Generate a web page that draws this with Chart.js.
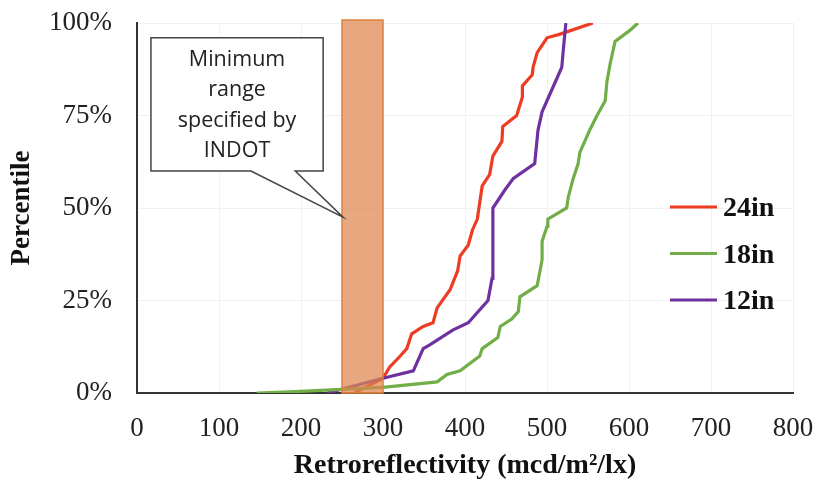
<!DOCTYPE html>
<html>
<head>
<meta charset="utf-8">
<script src="https://cdn.jsdelivr.net/npm/chart.js@4.4.0/dist/chart.umd.min.js"></script>
<style>
  body { margin: 0; background: #fff; }
  #wrap { width: 817px; height: 487px; }
</style>
</head>
<body>
<div id="wrap"><canvas id="retroChart" width="817" height="487"></canvas></div>
<script>
// retroreflectivity (mcd/m2/lx) vs cumulative percentile
const x24 = [265, 300, 308, 321, 329, 335, 349, 361, 366, 382, 391, 394, 404, 409, 415, 421, 430, 434, 445, 446, 463, 470, 470, 482, 483, 488, 500, 516, 556];
const p24 = [0, 4, 7, 10, 12, 16, 18, 19, 23, 28, 33, 37, 40, 44, 47, 56, 59, 64, 68, 72, 75, 80, 83, 86, 88, 92, 96, 97, 100];

const x18 = [146, 186, 300, 366, 378, 394, 418, 421, 440, 443, 457, 465, 467, 488, 494, 494, 500, 501, 524, 526, 532, 538, 540, 546, 552, 561, 571, 573, 577, 583, 601, 611];
const p18 = [0, 0.3, 1.5, 3, 5, 6, 10, 12, 15, 18, 20, 22, 26, 29, 36, 41, 45, 47, 50, 53, 58, 62, 65, 68, 71, 75, 79, 84, 89, 95, 98, 100];

const x12 = [232, 300, 337, 349, 357, 385, 404, 428, 433, 434, 434, 449, 459, 485, 489, 494, 512, 518, 520, 523];
const p12 = [0, 4, 6, 12, 13, 17, 19, 25, 31, 36, 50, 55, 58, 62, 71, 76, 85, 88, 93, 100];

const seriesNames = ['24in', '18in', '12in'];
const seriesColors = ['#ee3b24', '#72ae48', '#7031a0'];
const indotRange = [250, 300];
const xTicks = [0, 100, 200, 300, 400, 500, 600, 700, 800];
const yTicks = [0, 25, 50, 75, 100];
const noteLines = ['Minimum', 'range', 'specified by', 'INDOT'];

function pts(xs, ys) {
    return xs.map((x, i) => ({ x: x, y: ys[i] }));
}

const serif = "'Liberation Serif', 'Times New Roman', serif";

// orange band for INDOT range, drawn over the lines
const bandPlugin = {
    id: 'band',
    afterDatasetsDraw(chart) {
        const { ctx, scales: { x, y } } = chart;
        const x0 = x.getPixelForValue(indotRange[0]);
        const x1 = x.getPixelForValue(indotRange[1]);
        const top = y.getPixelForValue(100) - 3;
        const bot = y.getPixelForValue(0);
        ctx.save();
        ctx.fillStyle = 'rgba(222, 134, 78, 0.72)';
        ctx.fillRect(x0, top, x1 - x0, bot - top);
        ctx.strokeStyle = '#e0803f';
        ctx.lineWidth = 1.5;
        ctx.strokeRect(x0, top, x1 - x0, bot - top);
        ctx.restore();
    }
};

// callout box pointing at the band
const calloutPlugin = {
    id: 'callout',
    afterDraw(chart) {
        const { ctx, scales: { x, y } } = chart;
        const left = x.getPixelForValue(17);
        const right = x.getPixelForValue(227);
        const top = y.getPixelForValue(96);
        const bot = y.getPixelForValue(60);
        const b0 = x.getPixelForValue(139);
        const b1 = x.getPixelForValue(193);
        const tipX = x.getPixelForValue(indotRange[0]) + 1;
        const tipY = y.getPixelForValue(47.5);
        ctx.save();
        ctx.beginPath();
        ctx.moveTo(left, top);
        ctx.lineTo(right, top);
        ctx.lineTo(right, bot);
        ctx.lineTo(b1, bot);
        ctx.lineTo(tipX, tipY);
        ctx.lineTo(b0, bot);
        ctx.lineTo(left, bot);
        ctx.closePath();
        ctx.fillStyle = '#fff';
        ctx.fill();
        ctx.strokeStyle = '#444';
        ctx.lineWidth = 1.5;
        ctx.stroke();
        ctx.fillStyle = '#222';
        ctx.font = "21.5px 'Open Sans', sans-serif";
        ctx.textAlign = 'center';
        ctx.textBaseline = 'middle';
        const cx = (left + right) / 2;
        noteLines.forEach((t, i) => ctx.fillText(t, cx, top + 22 + i * 30.5));
        ctx.restore();
    }
};

// legend on the right side inside the plot
const legendPlugin = {
    id: 'sideLegend',
    afterDraw(chart) {
        const { ctx, chartArea } = chart;
        const lx = chartArea.right - 123;
        let ly = chartArea.top + 184;
        ctx.save();
        ctx.font = "bold 28px " + serif;
        ctx.textBaseline = 'middle';
        ctx.textAlign = 'left';
        seriesNames.forEach((name, i) => {
            ctx.strokeStyle = seriesColors[i];
            ctx.lineWidth = 3.2;
            ctx.beginPath();
            ctx.moveTo(lx, ly);
            ctx.lineTo(lx + 47, ly);
            ctx.stroke();
            ctx.fillStyle = '#111';
            ctx.fillText(name, lx + 53, ly + 2);
            ly += 46.5;
        });
        ctx.restore();
    }
};

const ctx = document.getElementById('retroChart').getContext('2d');
const chart = new Chart(ctx, {
    type: 'line',
    data: {
        datasets: [
            { label: seriesNames[1], data: pts(x18, p18), borderColor: seriesColors[1] },
            { label: seriesNames[2], data: pts(x12, p12), borderColor: seriesColors[2] },
            { label: seriesNames[0], data: pts(x24, p24), borderColor: seriesColors[0] }
        ]
    },
    options: {
        responsive: false,
        animation: false,
        layout: { padding: { top: 23, right: 24, left: 0, bottom: 0 } },
        elements: {
            point: { radius: 0 },
            line: { borderWidth: 3.2, tension: 0, fill: false }
        },
        scales: {
            x: {
                type: 'linear',
                min: 0,
                max: 800,
                afterBuildTicks(scale) { scale.ticks = xTicks.map(v => ({ value: v })); },
                afterFit(scale) {
                    scale.height = 94;
                    scale.paddingLeft = 0;
                    scale.paddingRight = 0;
                },
                grid: { color: '#f1f1f1', drawTicks: false },
                border: { color: '#333', width: 2 },
                ticks: { color: '#222', padding: 20, font: { family: serif, size: 27 } },
                title: {
                    display: true,
                    text: 'Retroreflectivity (mcd/m²/lx)',
                    color: '#111',
                    font: { family: serif, size: 28, weight: 'bold' },
                    padding: { top: 0, bottom: 4 }
                }
            },
            y: {
                min: 0,
                max: 100,
                afterBuildTicks(scale) { scale.ticks = yTicks.map(v => ({ value: v })); },
                afterFit(scale) {
                    scale.width = 137;
                    scale.paddingTop = 0;
                    scale.paddingBottom = 0;
                },
                grid: { color: '#f1f1f1', drawTicks: false },
                border: { color: '#333', width: 2 },
                ticks: {
                    color: '#222',
                    padding: 25,
                    font: { family: serif, size: 27 },
                    callback: v => v + '%'
                },
                title: {
                    display: true,
                    text: 'Percentile',
                    color: '#111',
                    font: { family: serif, size: 27, weight: 'bold' },
                    padding: { top: 6, bottom: 0 }
                }
            }
        },
        plugins: {
            legend: { display: false },
            tooltip: { enabled: false }
        }
    },
    plugins: [bandPlugin, legendPlugin, calloutPlugin]
});
</script>
</body>
</html>
